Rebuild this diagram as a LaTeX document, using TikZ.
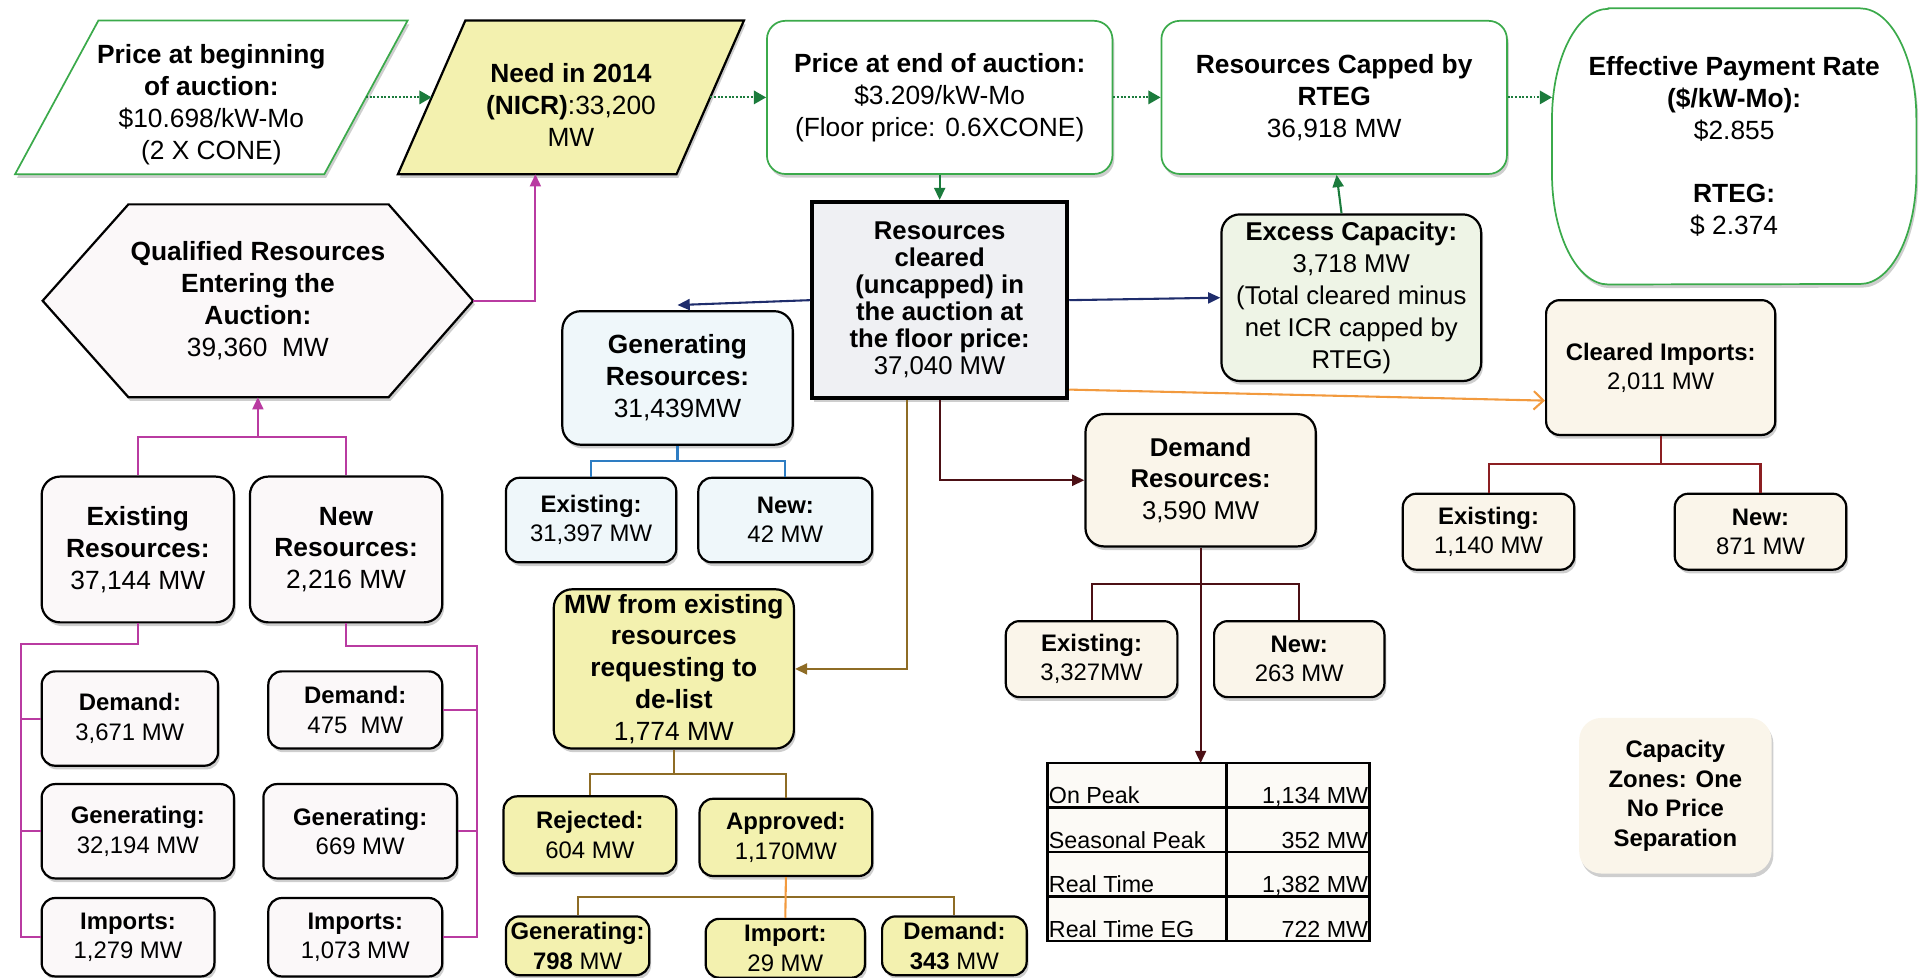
\documentclass[tikz,border=0pt]{standalone}
\usepackage{fontspec}
\setmainfont{Liberation Sans}
\usetikzlibrary{arrows.meta,calc,shadows,backgrounds}
\definecolor{gborder}{HTML}{3BAA4B}
\definecolor{gdark}{HTML}{1B7B3C}
\definecolor{magline}{HTML}{B93BA1}
\definecolor{blueline}{HTML}{2E7DC3}
\definecolor{navyline}{HTML}{1F2D6C}
\definecolor{brownline}{HTML}{8E6C25}
\definecolor{maroonline}{HTML}{4C1015}
\definecolor{redline}{HTML}{8C1F22}
\definecolor{orangeline}{HTML}{F29A3E}
\definecolor{pinkbg}{HTML}{FBF8F9}
\definecolor{bluebg}{HTML}{EFF7FA}
\definecolor{yellowbg}{HTML}{F3F1AF}
\definecolor{creambg}{HTML}{FAF5EA}
\definecolor{greybg}{HTML}{EFF0F3}
\definecolor{greenbg}{HTML}{EEF4E6}
\definecolor{cellbg}{HTML}{FCFAF6}
\tikzset{
  softshadow/.style={drop shadow={shadow xshift=1.5pt, shadow yshift=-3pt, opacity=0.35, fill=black!55}},
  box/.style={draw, rounded corners=15pt, align=center, inner sep=0pt, line width=1.8pt, font=\fontsize{21.5}{26}\selectfont, softshadow},
  sbox/.style={box, rounded corners=11pt, font=\fontsize{19.5}{24}\selectfont},
  ktop/.style={box, draw=gborder, line width=1.4pt, fill=white},
  kpink/.style={box, fill=pinkbg}, kpinks/.style={sbox, fill=pinkbg},
  kblue/.style={box, fill=bluebg}, kblues/.style={sbox, fill=bluebg},
  kyellow/.style={box, fill=yellowbg}, kyellows/.style={sbox, fill=yellowbg},
  kcream/.style={box, fill=creambg}, kcreams/.style={sbox, fill=creambg},
  kgrey/.style={box, sharp corners, line width=3.5pt, fill=greybg, font=\fontsize{21}{22}\selectfont},
  kgreen/.style={box, fill=greenbg, font=\fontsize{21}{26}\selectfont},
  ktext/.style={align=center, inner sep=0pt, font=\fontsize{21.5}{26}\selectfont},
  cellbox/.style={draw, line width=2pt, fill=cellbg, inner sep=0pt},
  celltext/.style={inner sep=0pt, font=\fontsize{19}{22}\selectfont},
  ahead/.style={-{Triangle[length=10pt, width=9pt]}},
  dotflow/.style={gdark, line width=1.6pt, dash pattern=on 1.6pt off 1.4pt, -{Triangle[length=10pt, width=11pt]}},
  lnk/.style={line width=1.7pt},
  glink/.style={lnk, gdark, ahead}, mlink/.style={lnk, magline}, blink/.style={lnk, blueline},
  nlink/.style={lnk, navyline, ahead}, brlink/.style={lnk, brownline}, dlink/.style={lnk, maroonline},
  rlink/.style={lnk, redline}, olink/.style={lnk, orangeline},
}
\begin{document}
\begin{tikzpicture}[x=1pt, y=-1pt]
  \useasboundingbox (0,0) rectangle (1568,798);
  \node[ktext, minimum width=252pt, minimum height=125pt] (pstart) at (172.5,85.5) {\textbf{Price at beginning}\\\textbf{of auction:}\\\$10.698/kW-Mo\\(2 X CONE)};
  \node[ktext, minimum width=227pt, minimum height=125pt] (need) at (466,85.5) {\textbf{Need in 2014}\\\textbf{(NICR)}:33,200\\MW};
  \node[ktop, minimum width=282pt, minimum height=125pt] (priceend) at (767,79.5) {\textbf{Price at end of auction:}\\\$3.209/kW-Mo\\(Floor price: 0.6XCONE)};
  \node[ktop, minimum width=282pt, minimum height=125pt] (capped) at (1089,79.5) {\textbf{Resources Capped by}\\\textbf{RTEG}\\36,918 MW};
  \node[ktext, minimum width=297pt, minimum height=225pt] (eff) at (1415.5,119.5) {\textbf{Effective Payment Rate}\\\textbf{(\$/kW-Mo):}\\\$2.855\\[26pt]\textbf{RTEG:}\\\$ 2.374};
  \node[ktext, minimum width=351pt, minimum height=157pt] (qual) at (210.5,245.5) {\textbf{Qualified Resources}\\\textbf{Entering the}\\\textbf{Auction:}\\39,360\ \ MW};
  \begin{scope}[on background layer]
    \draw[gborder, line width=1.4pt, fill=white, softshadow] ($(pstart.north west)+(34,-6)$) -- ($(pstart.north east)+(34,-6)$) -- ($(pstart.south east)+(-34,-6)$) -- ($(pstart.south west)+(-34,-6)$) -- cycle;
    \draw[line width=1.8pt, fill=yellowbg, softshadow] ($(need.north west)+(27.5,-6)$) -- ($(need.north east)+(27.5,-6)$) -- ($(need.south east)+(-27.5,-6)$) -- ($(need.south west)+(-27.5,-6)$) -- cycle;
    \draw[line width=1.8pt, fill=pinkbg, softshadow] (qual.west) -- ($(qual.north west)+(70,0)$) -- ($(qual.north east)+(-69,0)$) -- (qual.east) -- ($(qual.south east)+(-69,0)$) -- ($(qual.south west)+(70,0)$) -- cycle;
    \draw[gborder, line width=1.4pt, fill=white, softshadow] ($(eff.north west)+(46,0)$) -- ($(eff.north east)+(-46,0)$) arc[start angle=90, end angle=0, x radius=46pt, y radius=90pt] -- ++(0,45) arc[start angle=0, end angle=-90, x radius=46pt, y radius=90pt] -- ($(eff.south west)+(46,0)$) arc[start angle=-90, end angle=-180, x radius=46pt, y radius=90pt] -- ++(0,-45) arc[start angle=180, end angle=90, x radius=46pt, y radius=90pt] -- cycle;
  \end{scope}
  \node[kpink, minimum width=157pt, minimum height=119pt] (exist) at (112.5,448.5) {\textbf{Existing}\\\textbf{Resources:}\\37,144 MW};
  \node[kpink, minimum width=157pt, minimum height=119pt] (newres) at (282.5,448.5) {\textbf{New}\\\textbf{Resources:}\\2,216 MW};
  \node[kpinks, minimum width=144pt, minimum height=77pt] (edem) at (106,586.5) {\textbf{Demand:}\\3,671 MW};
  \node[kpinks, minimum width=157pt, minimum height=77pt] (egen) at (112.5,678.5) {\textbf{Generating:}\\32,194 MW};
  \node[kpinks, minimum width=141pt, minimum height=64pt] (eimp) at (104.5,765) {\textbf{Imports:}\\1,279 MW};
  \node[kpinks, minimum width=142pt, minimum height=63pt] (ndem) at (290,579.5) {\textbf{Demand:}\\475\ \ MW};
  \node[kpinks, minimum width=158pt, minimum height=77pt] (ngen) at (294,678.5) {\textbf{Generating:}\\669 MW};
  \node[kpinks, minimum width=142pt, minimum height=64pt] (nimp) at (290,765) {\textbf{Imports:}\\1,073 MW};
  \node[kgrey, minimum width=208pt, minimum height=160pt] (cleared) at (767,245) {\textbf{Resources}\\\textbf{cleared}\\\textbf{(uncapped) in}\\\textbf{the auction at}\\\textbf{the floor price:}\\37,040 MW};
  \node[kgreen, minimum width=212pt, minimum height=136pt] (excess) at (1103,243) {\textbf{Excess Capacity:}\\3,718 MW\\(Total cleared minus\\net ICR capped by\\RTEG)};
  \node[kblue, minimum width=188pt, minimum height=109pt] (genres) at (553,308.5) {\textbf{Generating}\\\textbf{Resources:}\\31,439MW};
  \node[kblues, minimum width=139pt, minimum height=69pt] (gex) at (482.5,424.5) {\textbf{Existing:}\\31,397 MW};
  \node[kblues, minimum width=142pt, minimum height=69pt] (gnew) at (641,424.5) {\textbf{New:}\\42 MW};
  \node[kyellow, minimum width=196pt, minimum height=130pt] (delist) at (550,546) {\textbf{MW from existing}\\\textbf{resources}\\\textbf{requesting to}\\\textbf{de-list}\\1,774 MW};
  \node[kyellows, minimum width=141pt, minimum height=63pt] (rej) at (481.5,681.5) {\textbf{Rejected:}\\604 MW};
  \node[kyellows, minimum width=141pt, minimum height=63pt] (appr) at (641.5,683.5) {\textbf{Approved:}\\1,170MW};
  \node[kyellows, minimum width=117pt, minimum height=48pt] (agen) at (471.5,772) {\textbf{Generating:}\\\textbf{798} MW};
  \node[kyellows, minimum width=130pt, minimum height=48pt] (aimp) at (641,774) {\textbf{Import:}\\29 MW};
  \node[kyellows, minimum width=118pt, minimum height=48pt] (adem) at (779,772) {\textbf{Demand:}\\\textbf{343} MW};
  \node[kcream, minimum width=188pt, minimum height=108pt, font=\fontsize{21}{25.5}\selectfont] (demres) at (980,392) {\textbf{Demand}\\\textbf{Resources:}\\3,590 MW};
  \node[kcreams, minimum width=140pt, minimum height=62pt] (dex) at (891,538) {\textbf{Existing:}\\3,327MW};
  \node[kcreams, minimum width=139pt, minimum height=62pt] (dnew) at (1060.5,538) {\textbf{New:}\\263 MW};
  \node[kcreams, minimum width=187pt, minimum height=110pt, font=\fontsize{19.5}{23.5}\selectfont] (cimp) at (1355.5,300) {\textbf{Cleared Imports:}\\2,011 MW};
  \node[kcreams, minimum width=140pt, minimum height=62pt] (cex) at (1215,434) {\textbf{Existing:}\\1,140 MW};
  \node[kcreams, minimum width=140pt, minimum height=62pt] (cnew) at (1437,434) {\textbf{New:}\\871 MW};
  \node[kcreams, draw=none, minimum width=157pt, minimum height=127pt, rounded corners=18pt] (zones) at (1367.5,649.5) {\textbf{Capacity}\\\textbf{Zones: One}\\\textbf{No Price}\\\textbf{Separation}};
  \node[inner sep=0pt, minimum width=263pt, minimum height=145pt] (tbl) at (986.5,695.5) {};
  \node[cellbox, minimum width=146pt, minimum height=36.25pt] (c11) at (928,641.1) {};
  \node[cellbox, minimum width=117pt, minimum height=36.25pt] (c12) at (1059.5,641.1) {};
  \node[cellbox, minimum width=146pt, minimum height=36.25pt] (c21) at (928,677.4) {};
  \node[cellbox, minimum width=117pt, minimum height=36.25pt] (c22) at (1059.5,677.4) {};
  \node[cellbox, minimum width=146pt, minimum height=36.25pt] (c31) at (928,713.6) {};
  \node[cellbox, minimum width=117pt, minimum height=36.25pt] (c32) at (1059.5,713.6) {};
  \node[cellbox, minimum width=146pt, minimum height=36.25pt] (c41) at (928,749.9) {};
  \node[cellbox, minimum width=117pt, minimum height=36.25pt] (c42) at (1059.5,749.9) {};
  \node[celltext, anchor=base west] (t11) at ($(c11.south west)+(2,-4)$) {On Peak};
  \node[celltext, anchor=base east] (t12) at ($(c12.south east)+(-2,-4)$) {1,134 MW};
  \node[celltext, anchor=base west] (t21) at ($(c21.south west)+(2,-4)$) {Seasonal Peak};
  \node[celltext, anchor=base east] (t22) at ($(c22.south east)+(-2,-4)$) {352 MW};
  \node[celltext, anchor=base west] (t31) at ($(c31.south west)+(2,-4)$) {Real Time};
  \node[celltext, anchor=base east] (t32) at ($(c32.south east)+(-2,-4)$) {1,382 MW};
  \node[celltext, anchor=base west] (t41) at ($(c41.south west)+(2,-4)$) {Real Time EG};
  \node[celltext, anchor=base east] (t42) at ($(c42.south east)+(-2,-4)$) {722 MW};
  \coordinate (qj) at (210.5,357);
  \coordinate (ej) at (17,526);
  \coordinate (nj) at (389,527);
  \coordinate (gj) at (553,376);
  \coordinate (gtip) at (553,249);
  \coordinate (kj) at (550,632);
  \coordinate (aj) at (641.5,732);
  \coordinate (dj) at (980,477);
  \coordinate (cj) at (1355.5,379);
  \draw[dotflow] ([yshift=6pt]pstart.east) -- ([yshift=6pt]need.west);
  \draw[dotflow] ([yshift=6pt]need.east) -- (priceend.west);
  \draw[dotflow] (priceend.east) -- (capped.west);
  \draw[dotflow] (capped.east) -- (capped.east -| eff.west);
  \draw[glink] (priceend.south) -- (cleared.north);
  \draw[glink] ([xshift=-8pt]excess.north) -- ([xshift=2pt]capped.south);
  \draw[mlink, ahead] (qual.east) -| ([xshift=-29pt, yshift=6pt]need.south);
  \draw[mlink] (exist.north) |- (qj) -| (newres.north);
  \draw[mlink, ahead] (qj) -- (qual.south);
  \draw[mlink] (exist.south) |- (ej) |- (eimp.west);
  \draw[mlink] (ej |- edem.west) -- (edem.west);
  \draw[mlink] (ej |- egen.west) -- (egen.west);
  \draw[mlink] (newres.south) |- (nj) |- (nimp.east);
  \draw[mlink] (nj |- ndem.east) -- (ndem.east);
  \draw[mlink] (nj |- ngen.east) -- (ngen.east);
  \draw[nlink] (cleared.east) -- (excess.west);
  \draw[nlink] (cleared.west) -- (gtip);
  \draw[blink] (genres.south) -- (gj);
  \draw[blink] (gex.north) |- (gj) -| (gnew.north);
  \draw[brlink, ahead] ([xshift=-27pt]cleared.south) |- (delist.east);
  \draw[brlink] (delist.south) -- (kj);
  \draw[brlink] (rej.north) |- (kj) -| (appr.north);
  \draw[brlink] (agen.north) |- (aj) -| (adem.north);
  \draw[olink] (appr.south) -- (aimp.north);
  \draw[dlink, ahead] (cleared.south) |- (demres.west);
  \draw[dlink] (dex.north) |- (dj) -| (dnew.north);
  \draw[dlink, ahead] (demres.south) -- (demres.south |- tbl.north);
  \draw[olink, -{Straight Barb[length=8pt, width=15pt]}] ([yshift=-73pt]cleared.east) -- ([yshift=-27pt]cimp.west);
  \draw[rlink] (cimp.south) -- (cj);
  \draw[rlink] (cex.north) |- (cj) -| (cnew.north);
\end{tikzpicture}
\end{document}
